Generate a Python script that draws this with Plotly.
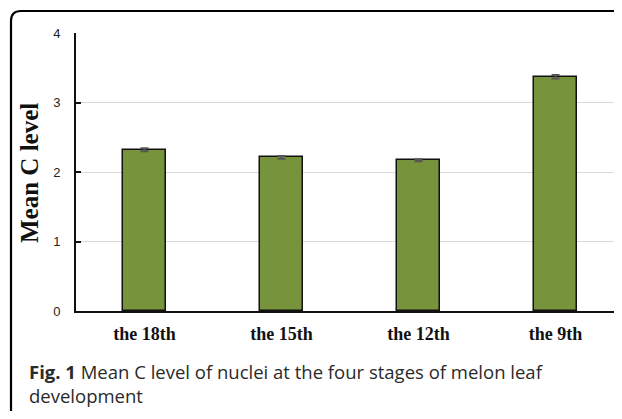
import plotly.graph_objects as go

categories = ["the 18th", "the 15th", "the 12th", "the 9th"]
mean_c = [2.32, 2.21, 2.17, 3.37]
err = [0.02, 0.02, 0.015, 0.025]
y_ticks = [0, 1, 2, 3, 4]

OFF = 8  # page body margin
W, H = 614, 403
L, R, T = 76 - OFF, 0, 33 - OFF
B = H - (311 - OFF)
pw, ph = W - L - R, H - T - B

def px(x):  # page pixel -> paper
    return (x - OFF - L) / pw

def py(y):
    return (H - B - (y - OFF)) / ph

fig = go.Figure()
fig.add_trace(go.Bar(
    x=categories, y=mean_c,
    width=0.314,
    marker=dict(color="#77933C", line=dict(color="#111111", width=1.5)),
    error_y=dict(type="data", array=err, visible=True, color="#555555", thickness=2, width=4),
))

r = 10
path = (f"M {px(11)},{py(440)} L {px(11)},{py(11 + r)} "
        f"Q {px(11)},{py(11)} {px(11 + r)},{py(11)} L {px(640)},{py(11)}")
shapes = [dict(type="path", xref="paper", yref="paper", path=path,
               line=dict(color="#000000", width=2.2), layer="above")]

cap_font = dict(family="Open Sans", size=18.5, color="#2a2a2a")
annotations = [
    dict(text="<b>Mean C level</b>", textangle=-90,
         xref="paper", yref="paper", x=px(29), y=py(173), xanchor="center", yanchor="middle",
         showarrow=False, font=dict(family="Liberation Serif", size=25, color="#111111")),
    dict(text="<b>Fig. 1</b> Mean C level of nuclei at the four stages of melon leaf",
         xref="paper", yref="paper", x=px(27), y=py(371), xanchor="left", yanchor="middle",
         showarrow=False, font=cap_font),
    dict(text="development",
         xref="paper", yref="paper", x=px(27), y=py(396), xanchor="left", yanchor="middle",
         showarrow=False, font=cap_font),
]

fig.update_layout(
    width=W, height=H,
    margin=dict(l=L, r=R, t=T, b=B),
    plot_bgcolor="white", paper_bgcolor="white",
    showlegend=False,
    bargap=0,
    shapes=shapes,
    annotations=annotations,
    xaxis=dict(
        range=[-0.5, 3.485],
        showline=True, linecolor="#111111", linewidth=2,
        ticks="", showgrid=False, ticklabelstandoff=5,
        tickfont=dict(family="Liberation Serif", size=18, color="#111111", weight="bold"),
    ),
    yaxis=dict(
        range=[0, 4], tickvals=y_ticks,
        showline=True, linecolor="#111111", linewidth=2,
        ticks="inside", ticklen=5, tickwidth=2, tickcolor="#111111",
        ticklabelstandoff=11,
        showgrid=True, gridcolor="#d9d9d9", gridwidth=1,
        zeroline=False,
        tickfont=dict(family="Liberation Sans", size=13, color="#222222"),
    ),
)

fig.write_html("out.html")
